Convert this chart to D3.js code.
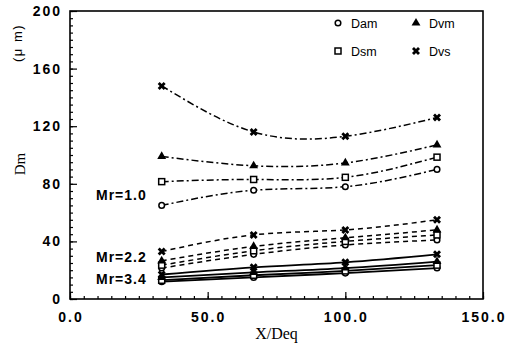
<!DOCTYPE html>
<html>
<head>
<meta charset="utf-8">
<script src="https://d3js.org/d3.v7.min.js"></script>
<style>
  body { margin: 0; background: #fff; }
  text { fill: #000; }
  .tick-label { font-family: "Liberation Sans", Arial, sans-serif; font-size: 14px; font-weight: bold; letter-spacing: 2px; }
  .serif { font-family: "Liberation Serif", "Times New Roman", serif; }
  .lab { font-family: "Liberation Sans", Arial, sans-serif; font-size: 14px; font-weight: bold; letter-spacing: 1px; }
  .leg { font-family: "Liberation Sans", Arial, sans-serif; font-size: 12.5px; }
</style>
</head>
<body>
<svg id="chart" width="510" height="350"></svg>
<script>
// x positions (X/Deq)
var xVals = [33.3, 66.7, 100, 133.3];

// Mr = 1.0
var dam1 = [65, 75.5, 78, 90];
var dsm1 = [81.5, 83, 84.5, 98.5];
var dvm1 = [99, 92.5, 94.5, 107];
var dvs1 = [148, 116, 113, 126];
// Mr = 2.2
var dam2 = [21.5, 31, 37.5, 41];
var dsm2 = [23.5, 33.5, 40, 44.5];
var dvm2 = [26.5, 36.5, 42.5, 48];
var dvs2 = [33, 44.5, 48, 55];
// Mr = 3.4
var dam3 = [12, 15, 18, 21.5];
var dsm3 = [13, 16.5, 19.5, 23.5];
var dvm3 = [15, 18.5, 21.5, 26];
var dvs3 = [17, 22, 25.5, 31];

var xTicks = [0, 50, 100, 150];
var yTicks = [0, 40, 80, 120, 160, 200];
var groupLabels = [["Mr=1.0", 72.5], ["Mr=2.2", 29], ["Mr=3.4", 14]];

var svg = d3.select('#chart');
var x = d3.scaleLinear().domain([0, 150]).range([70, 483]);
var y = d3.scaleLinear().domain([0, 200]).range([299, 11]);

// frame
svg.append('rect')
  .attr('x', x(0)).attr('y', y(200))
  .attr('width', x(150) - x(0)).attr('height', y(0) - y(200))
  .attr('fill', 'none').attr('stroke', '#000').attr('stroke-width', 1.6);

// inward ticks
var xAxis = d3.axisTop(x).tickValues(xTicks).tickSize(7).tickFormat('');
var xMinor = d3.axisTop(x).tickValues(d3.range(0, 151, 5)).tickSize(3).tickFormat('');
var yAxis = d3.axisRight(y).tickValues(yTicks).tickSize(7).tickFormat('');
var yMinor = d3.axisRight(y).tickValues(d3.range(0, 201, 5)).tickSize(3).tickFormat('');
[xAxis, xMinor].forEach(function(a) {
  svg.append('g').attr('transform', 'translate(0,' + y(0) + ')').call(a)
    .call(function(g) { g.select('.domain').remove(); g.selectAll('line').attr('stroke-width', 1.2); });
});
[yAxis, yMinor].forEach(function(a) {
  svg.append('g').attr('transform', 'translate(' + x(0) + ',0)').call(a)
    .call(function(g) { g.select('.domain').remove(); g.selectAll('line').attr('stroke-width', 1.2); });
});

// tick labels
svg.selectAll('.xl').data(xTicks).enter().append('text')
  .attr('class', 'tick-label')
  .attr('x', function(d) { return x(d) + 1; }).attr('y', 322)
  .attr('text-anchor', 'middle')
  .text(function(d) { return d3.format('.1f')(d); });
svg.selectAll('.yl').data(yTicks).enter().append('text')
  .attr('class', 'tick-label')
  .attr('x', 62).attr('y', function(d) { return y(d) + 5; })
  .attr('text-anchor', 'end')
  .text(function(d) { return d; });

// axis titles
svg.append('text').attr('class', 'serif')
  .attr('x', x(75)).attr('y', 339).attr('text-anchor', 'middle')
  .style('font-size', '16px').text('X/Deq');
svg.append('text').attr('class', 'serif')
  .attr('transform', 'translate(25,164) rotate(-90)').attr('text-anchor', 'middle')
  .style('font-size', '15px').text('Dm');
svg.append('text').attr('class', 'leg')
  .attr('transform', 'translate(22,43) rotate(-90)').attr('text-anchor', 'middle')
  .style('font-size', '13px').style('letter-spacing', '1.5px').text('(μ m)');

// series
var groups = [
  {sets: [dam1, dsm1, dvm1, dvs1], dash: '7,3,2,3'},
  {sets: [dam2, dsm2, dvm2, dvs2], dash: '5,4'},
  {sets: [dam3, dsm3, dvm3, dvs3], dash: null}
];
var kinds = ['dam', 'dsm', 'dvm', 'dvs'];
var line = d3.line().x(function(d) { return x(d[0]); }).y(function(d) { return y(d[1]); })
  .curve(d3.curveNatural);

function marker(g, kind, px, py) {
  if (kind === 'dam') {
    g.append('circle').attr('cx', px).attr('cy', py).attr('r', 2.8)
      .attr('fill', '#fff').attr('stroke', '#000').attr('stroke-width', 1.5);
  } else if (kind === 'dsm') {
    g.append('rect').attr('x', px - 3).attr('y', py - 3).attr('width', 6).attr('height', 6)
      .attr('fill', '#fff').attr('stroke', '#000').attr('stroke-width', 1.5);
  } else if (kind === 'dvm') {
    g.append('path').attr('d', d3.symbol().type(d3.symbolTriangle).size(34)())
      .attr('transform', 'translate(' + px + ',' + py + ')').attr('fill', '#000');
  } else {
    g.append('path').attr('d', d3.symbol().type(d3.symbolCross).size(40)())
      .attr('transform', 'translate(' + px + ',' + py + ') rotate(45)').attr('fill', '#000');
  }
}

groups.forEach(function(grp) {
  grp.sets.forEach(function(vals, i) {
    var pts = xVals.map(function(v, j) { return [v, vals[j]]; });
    svg.append('path').datum(pts).attr('d', line)
      .attr('fill', 'none').attr('stroke', '#000')
      .attr('stroke-width', grp.dash ? 1.5 : 1.8)
      .attr('stroke-dasharray', grp.dash);
    var g = svg.append('g');
    pts.forEach(function(p) { marker(g, kinds[i], x(p[0]), y(p[1])); });
  });
});

// group labels
svg.selectAll('.gl').data(groupLabels).enter().append('text')
  .attr('class', 'lab')
  .attr('x', 96).attr('y', function(d) { return y(d[1]) + 5; })
  .text(function(d) { return d[0]; });

// legend
var legend = [["dam", "Dam", 338, 23], ["dvm", "Dvm", 416, 23], ["dsm", "Dsm", 338, 51], ["dvs", "Dvs", 416, 51]];
var lg = svg.append('g');
legend.forEach(function(d) {
  marker(lg, d[0], d[2], d[3]);
  lg.append('text').attr('class', 'leg').attr('x', d[2] + 13).attr('y', d[3] + 4.5).text(d[1]);
});
</script>
</body>
</html>
